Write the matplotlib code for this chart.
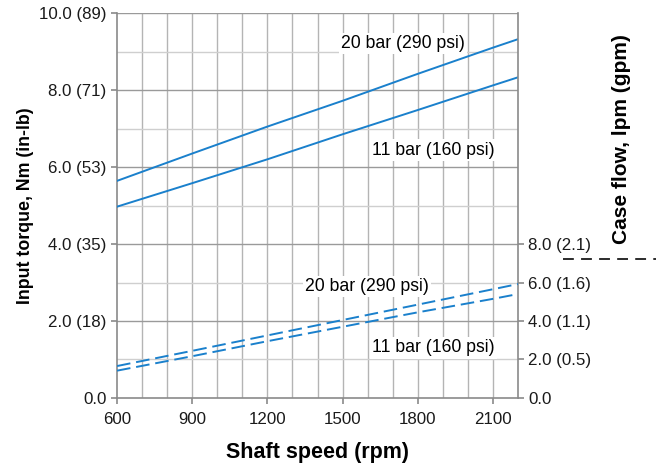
import numpy as np
import matplotlib
matplotlib.use("Agg")
import matplotlib.pyplot as plt
from matplotlib.lines import Line2D

plt.rcParams["font.family"] = ["Liberation Sans", "DejaVu Sans"]

# shaft speed (rpm)
speed = [600, 900, 1200, 1500, 1800, 2100, 2200]

# input torque (Nm), solid lines
torque_20bar = [5.64, 6.35, 7.05, 7.72, 8.42, 9.10, 9.32]
torque_11bar = [4.97, 5.58, 6.20, 6.85, 7.48, 8.12, 8.33]

# case flow (lpm), dashed lines
flow_20bar = [1.66, 2.45, 3.25, 4.05, 4.85, 5.65, 5.92]
flow_11bar = [1.42, 2.17, 2.95, 3.70, 4.45, 5.15, 5.40]

left_ticks = [0, 2, 4, 6, 8, 10]
left_labels = ["0.0", "2.0 (18)", "4.0 (35)", "6.0 (53)", "8.0 (71)", "10.0 (89)"]
right_ticks = [0, 2, 4, 6, 8]
right_labels = ["0.0", "2.0 (0.5)", "4.0 (1.1)", "6.0 (1.6)", "8.0 (2.1)"]
x_ticks = [600, 900, 1200, 1500, 1800, 2100]

blue = "#1a80cc"
axis_gray = "#8a8a8a"

fig = plt.figure(figsize=(6.56, 4.70), dpi=100)
ax = fig.add_axes([0.1784, 0.1532, 0.6112, 0.8191])

ax.set_xlim(600, 2200)
ax.set_ylim(0, 10)

# grid
for v in range(700, 2200, 100):
    ax.axvline(v, color="#b4b4b4", lw=1.0, zorder=0)
for h in range(1, 11):
    c = "#9a9a9a" if h % 2 == 0 else "#cfcfcf"
    ax.axhline(h, color=c, lw=1.0, zorder=0)

ax.plot(speed, torque_20bar, color=blue, lw=1.4, zorder=3)
ax.plot(speed, torque_11bar, color=blue, lw=1.4, zorder=3)

ax2 = ax.twinx()
ax2.set_ylim(0, 20)
ax2.plot(speed, flow_20bar, color=blue, lw=1.4, ls=(0, (7, 3)), zorder=3)
ax2.plot(speed, flow_11bar, color=blue, lw=1.4, ls=(0, (7, 3)), zorder=3)

for a in (ax, ax2):
    for s in a.spines.values():
        s.set_visible(False)
ax.spines["left"].set_visible(True)
ax.spines["bottom"].set_visible(True)
ax2.spines["right"].set_visible(True)
for s in (ax.spines["left"], ax.spines["bottom"], ax2.spines["right"]):
    s.set_color(axis_gray)
    s.set_linewidth(1.2)

ax.set_xticks(x_ticks)
ax.set_yticks(left_ticks)
ax.set_yticklabels(left_labels)
ax2.set_yticks(right_ticks)
ax2.set_yticklabels(right_labels)
ax.tick_params(colors=axis_gray, labelcolor="#1a1a1a", labelsize=12.2, length=4, width=1.2)
ax2.tick_params(colors=axis_gray, labelcolor="#1a1a1a", labelsize=12.2, length=4, width=1.2)
ax.tick_params(axis="x", pad=6)

ax.set_xlabel("Shaft speed (rpm)", fontsize=15.5, fontweight="bold", labelpad=11)
ax.set_ylabel("Input torque, Nm (in-lb)", fontsize=12.8, fontweight="bold", labelpad=4)
fig.text(0.948, 0.705, "Case flow, lpm (gpm)", rotation=90, ha="center", va="center",
         fontsize=15, fontweight="bold")

# dashed key mark next to case flow label
fig.add_artist(Line2D([563 / 656, 1.0], [1 - 259 / 470, 1 - 259 / 470],
                      color="#1a1a1a", lw=1.3, ls=(0, (6, 4))))

box = dict(facecolor="white", edgecolor="none", pad=1.5)
ax.text(1740, 9.2, "20 bar (290 psi)", ha="center", va="center", fontsize=12.7, bbox=box, zorder=2)
ax.text(1864, 6.44, "11 bar (160 psi)", ha="center", va="center", fontsize=12.7, bbox=box, zorder=2)
ax.text(1597, 2.9, "20 bar (290 psi)", ha="center", va="center", fontsize=12.7, bbox=box, zorder=2)
ax.text(1864, 1.3, "11 bar (160 psi)", ha="center", va="center", fontsize=12.7, bbox=box, zorder=2)

fig.savefig("out.png", dpi=100)
